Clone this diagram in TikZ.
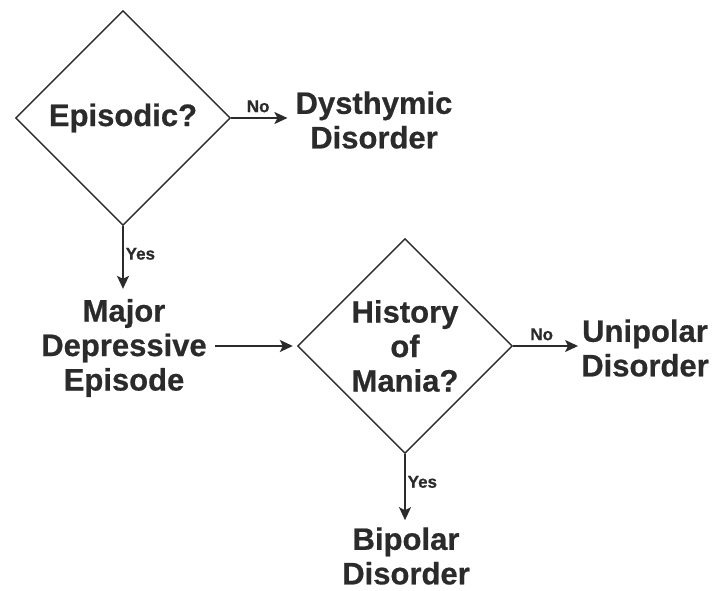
\documentclass[tikz,border=0pt]{standalone}
\usepackage{fontspec}
\setmainfont{Liberation Sans}[BoldFeatures={FakeBold=0.6}]
\usetikzlibrary{shapes.geometric,arrows.meta}
\definecolor{ink}{HTML}{2B2B2B}
\begin{document}
\begin{tikzpicture}[x=1pt,y=-1pt,
  decision/.style={draw=ink, line width=1.4pt, shape=diamond, aspect=1, inner sep=0pt,
    minimum width=215pt, minimum height=215pt, align=center, text=ink,
    font=\fontsize{31}{34.5}\selectfont\bfseries},
  outcome/.style={align=center, text=ink, inner sep=0pt,
    font=\fontsize{31}{34.5}\selectfont\bfseries},
  flow/.style={draw=ink, line width=1.4pt, -{Stealth[length=13pt,width=12pt,inset=3pt]}},
  lbl/.style={text=ink, inner sep=2pt, font=\fontsize{17}{19}\selectfont\bfseries}]
\useasboundingbox (0,0) rectangle (715,590);

\node[decision] (d1) at (123,118) {Episodic?};
\node[outcome]  (dys) at (374,120) {Dysthymic\\Disorder};
\node[outcome]  (mde) at (124,348) {Major\\Depressive\\Episode};
\node[decision] (d2) at (405,346) {History\\of\\Mania?};
\node[outcome]  (uni) at (645,348) {Unipolar\\Disorder};
\node[outcome]  (bip) at (406,556) {Bipolar\\Disorder};

\draw[flow, shorten >=8pt] (d1.east) -- node[lbl, above, pos=0.42, yshift=3pt] {No} (d1.east -| dys.west);
\draw[flow, shorten >=10pt] (d1.south) -- node[lbl, right, pos=0.38] {Yes} (d1.south |- mde.north);
\draw[flow, shorten <=8pt, shorten >=4pt] (mde.east |- d2.west) -- (d2.west);
\draw[flow, shorten >=3pt] (d2.east) -- node[lbl, above, pos=0.42, yshift=3pt] {No} (d2.east -| uni.west);
\draw[flow, shorten >=7pt] (d2.south) -- node[lbl, right, pos=0.38] {Yes} (d2.south |- bip.north);
\end{tikzpicture}
\end{document}
